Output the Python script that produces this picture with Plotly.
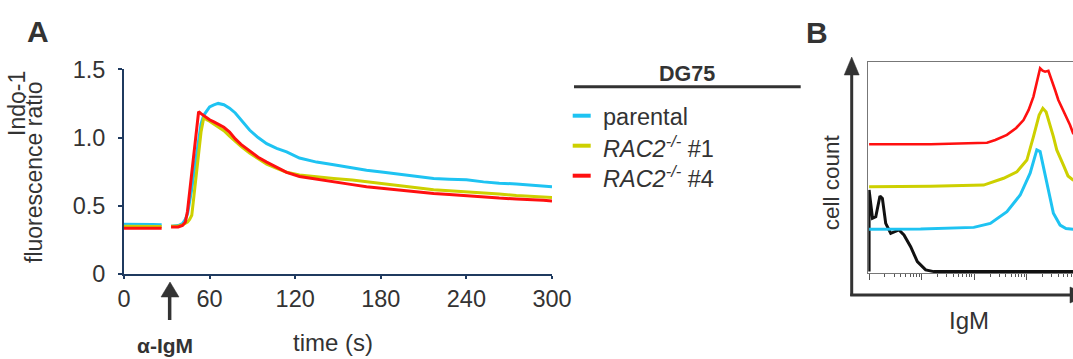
import plotly.graph_objects as go

# ---------------- Panel A data: Indo-1 fluorescence ratio vs time (s) ----------------
time_s = [0, 10, 20, 26.4, 30, 33, 38, 41, 43, 44.5, 46, 47.5, 49, 50.5, 52.3, 54, 56, 58, 60,
          63, 66, 70, 74, 78, 82, 88, 94, 100, 107, 114, 123, 135, 147, 160, 170, 182, 193,
          205, 217, 228, 240, 252, 263, 275, 287, 294, 300]

parental = [0.365, 0.366, 0.362, 0.36, None, 0.35, 0.355, 0.37, 0.40, 0.44, 0.52, 0.62, 0.74,
            0.86, 1.00, 1.10, 1.165, 1.20, 1.225, 1.24, 1.25, 1.24, 1.215, 1.18, 1.13, 1.055,
            1.00, 0.955, 0.92, 0.895, 0.85, 0.82, 0.80, 0.775, 0.76, 0.745, 0.73, 0.715, 0.70,
            0.695, 0.69, 0.675, 0.665, 0.66, 0.652, 0.645, 0.64]

rac2_1 = [0.35, 0.35, 0.348, 0.348, None, 0.35, 0.352, 0.36, 0.37, 0.38, 0.40, 0.43, 0.57,
          0.70, 0.86, 1.04, 1.15, 1.13, 1.12, 1.10, 1.08, 1.05, 1.01, 0.97, 0.935, 0.886,
          0.845, 0.805, 0.775, 0.745, 0.725, 0.71, 0.70, 0.688, 0.676, 0.66, 0.645, 0.63,
          0.617, 0.61, 0.603, 0.595, 0.586, 0.575, 0.566, 0.563, 0.56]

rac2_4 = [0.335, 0.336, 0.335, 0.335, None, 0.345, 0.345, 0.355, 0.38, 0.46, 0.60, 0.74, 0.88,
          1.06, 1.19, 1.175, 1.16, 1.14, 1.13, 1.115, 1.10, 1.075, 1.04, 0.99, 0.95, 0.90,
          0.855, 0.82, 0.785, 0.745, 0.715, 0.695, 0.672, 0.655, 0.64, 0.627, 0.615, 0.60,
          0.59, 0.583, 0.573, 0.565, 0.556, 0.55, 0.547, 0.54, 0.535]

stim_time = 32  # alpha-IgM addition (s)

x_ticks = [0, 60, 120, 180, 240, 300]
y_ticks = [0, 0.5, 1.0, 1.5]
y_ticktext = ["0", "0.5", "1.0", "1.5"]

series_names = ["parental", "<i>RAC2</i><sup><i>-/-</i></sup> #1", "<i>RAC2</i><sup><i>-/-</i></sup> #4"]
series_colors = ["#1EC3F2", "#CDD000", "#FF1010"]

# ---------------- Panel B data: IgM surface staining histograms ----------------
igm_black = [1, 1, 1.16, 1.34, 1.61, 1.79, 2.07, 2.58, 3.70, 4.60, 6.17, 8.26, 11.9, 17.0, 10000]
cnt_black = [0.8, 39.4, 26.0, 26.7, 36.5, 35.4, 23.6, 18.9, 20.5, 18.1, 12.6, 5.5, 1.6, 0.8, 0.8]

igm_cyan = [1, 9.55, 97.7, 201.8, 417.8, 746.4, 1153, 1545, 1786, 2393, 3192, 4276, 5546, 7534, 10000]
cnt_cyan = [20.8, 20.9, 21.7, 23.6, 29.1, 37.0, 47.3, 58.3, 57.5, 42.5, 28.4, 22.8, 21.2, 20.8, 20.8]

igm_yellow = [1, 14.8, 150.7, 360.6, 647.1, 1000, 1334, 1710, 2009, 2323, 3192, 3698, 4932, 6053, 7534, 10000]
cnt_yellow = [40.9, 41.1, 41.7, 44.9, 48.0, 53.5, 64.6, 74.8, 78.0, 76.2, 64.6, 58.3, 51.2, 46.0, 44.1, 43.0]

igm_red = [1, 14.8, 174.6, 251, 417.8, 626.6, 863, 1081, 1334, 1567, 1786, 1991, 2223, 2564, 2972,
           3436, 3963, 4667, 5728, 6607, 7534, 10000]
cnt_red = [61.0, 61.0, 61.7, 63.0, 65.4, 68.7, 72.4, 77.2, 83.5, 91.4, 96.9, 95.8, 95.3, 95.7, 91.4,
           86.6, 81.9, 78.1, 74.0, 70.1, 66.3, 63.0]

# ---------------- figure ----------------
W, H = 1073, 359


def px(x):
    return x / W


def py(y):
    return 1 - y / H


NAVY = "#1F3A5F"
TXT = "#333333"
FONT = "Liberation Sans, Arial, sans-serif"
FS = 23.5

fig = go.Figure()

for name, vals, col in zip(series_names, [parental, rac2_1, rac2_4], series_colors):
    fig.add_trace(go.Scatter(x=time_s, y=vals, mode="lines", name=name,
                             line=dict(color=col, width=3), connectgaps=False,
                             xaxis="x", yaxis="y"))

for xs, ys, col, wd in [(igm_black, cnt_black, "#111111", 3),
                        (igm_cyan, cnt_cyan, series_colors[0], 3),
                        (igm_yellow, cnt_yellow, series_colors[1], 3),
                        (igm_red, cnt_red, series_colors[2], 2.6)]:
    fig.add_trace(go.Scatter(x=xs, y=ys, mode="lines", line=dict(color=col, width=wd),
                             xaxis="x2", yaxis="y2", showlegend=False))

fig.update_layout(
    width=W, height=H, margin=dict(l=0, r=0, t=0, b=0, pad=0, autoexpand=False),
    paper_bgcolor="white", plot_bgcolor="white", showlegend=False,
    font=dict(family=FONT, size=FS, color=TXT),
    xaxis=dict(domain=[px(124), px(552)], range=[0, 300], tickvals=x_ticks,
               showline=True, linecolor=NAVY, linewidth=2, ticks="outside", ticklen=3,
               tickwidth=2, tickcolor=NAVY, showgrid=False, zeroline=False, automargin=False,
               tickfont=dict(size=FS, color=TXT), ticklabelstandoff=0, anchor="y"),
    yaxis=dict(domain=[py(274), py(69.3)], range=[0, 1.5], tickvals=y_ticks, ticktext=y_ticktext,
               showline=True, linecolor=NAVY, linewidth=2, ticks="outside", ticklen=4,
               tickwidth=2, tickcolor=NAVY, showgrid=False, zeroline=False, automargin=False,
               tickfont=dict(size=FS, color=TXT), ticklabelstandoff=8, anchor="x"),
    xaxis2=dict(domain=[px(868.3), 1.0], type="log", range=[-0.015, 3.877], dtick=1,
                showline=True, linecolor="#777777", linewidth=1.2, mirror=True,
                ticks="outside", ticklen=6, tickwidth=1, tickcolor="#555555",
                showticklabels=False, showgrid=False, zeroline=False, automargin=False,
                minor=dict(ticks="outside", ticklen=3, dtick="D1", tickcolor="#555555", showgrid=False),
                anchor="y2"),
    yaxis2=dict(domain=[py(273.3), py(61.7)], range=[0, 100], showline=True,
                linecolor="#777777", linewidth=1.2, ticks="", showticklabels=False,
                showgrid=False, zeroline=False, automargin=False, anchor="x2"),
)

ann = []
# panel letters
ann.append(dict(x=px(38), y=py(32), text="<b>A</b>", font=dict(size=30, color=TXT)))
ann.append(dict(x=px(817), y=py(33), text="<b>B</b>", font=dict(size=30, color=TXT)))
# axis titles panel A
ann.append(dict(x=px(333), y=py(342), text="time (s)", font=dict(size=24, color=TXT)))
ann.append(dict(x=px(17), y=py(104), text="Indo-1", textangle=-90, font=dict(size=23, color=TXT)))
ann.append(dict(x=px(34), y=py(172), text="fluorescence ratio", textangle=-90, font=dict(size=23, color=TXT)))
# stimulus label
ann.append(dict(x=px(165), y=py(345), text="<b>α-IgM</b>", font=dict(size=21, color=TXT)))
# legend
ann.append(dict(x=px(686.7), y=py(74), text="<b>DG75</b>", font=dict(size=21.5, color=TXT)))
for i, (name, col) in enumerate(zip(series_names, series_colors)):
    ann.append(dict(x=px(601), y=py(116.7 + 30 * i), text=name, xanchor="left",
                    font=dict(size=FS, color=TXT)))
# panel B axis titles
ann.append(dict(x=px(831.7), y=py(182.5), text="cell count", textangle=-90, font=dict(size=22.5, color=TXT)))
ann.append(dict(x=px(969), y=py(320), text="IgM", font=dict(size=24, color=TXT)))

for a in ann:
    a.setdefault("xref", "paper")
    a.setdefault("yref", "paper")
    a.setdefault("showarrow", False)
    a.setdefault("xanchor", "center")
    a.setdefault("yanchor", "middle")
fig.update_layout(annotations=ann)


def tri(p1, p2, p3):
    return "M {} {} L {} {} L {} {} Z".format(px(p1[0]), py(p1[1]), px(p2[0]), py(p2[1]),
                                              px(p3[0]), py(p3[1]))


def pline(x0, y0, x1, y1, col, w):
    return dict(type="line", xref="paper", yref="paper", x0=px(x0), x1=px(x1),
                y0=py(y0), y1=py(y1), line=dict(color=col, width=w))


def ppath(path, col):
    return dict(type="path", xref="paper", yref="paper", path=path,
                fillcolor=col, line=dict(color=col, width=0.5))


shapes = [pline(574, 86.7, 800.7, 86.7, TXT, 3)]
for i, col in enumerate(series_colors):
    shapes.append(pline(572.7, 115.7 + 30 * i, 590.7, 115.7 + 30 * i, col, 4))

# alpha-IgM arrow below the time axis (x in data units)
shapes.append(dict(type="line", xref="x", yref="paper", x0=stim_time, x1=stim_time,
                   y0=py(320), y1=py(294), line=dict(color=TXT, width=3.5)))
shapes.append(dict(type="path", xref="paper", yref="paper",
                   path=tri((170, 282), (161, 297), (179, 297)), fillcolor=TXT,
                   line=dict(color=TXT, width=0.5)))
# panel B big axis arrows
shapes.append(pline(851.7, 296, 851.7, 72, TXT, 3))
shapes.append(ppath(tri((851.7, 57), (844.2, 75), (859.2, 75)), TXT))
shapes.append(pline(850.2, 295, 1072, 295, TXT, 3))
shapes.append(ppath(tri((1089, 295), (1070, 287), (1070, 303)), TXT))
fig.update_layout(shapes=shapes)

fig.write_html("out.html", config={"displayModeBar": False},
               post_script="document.body.style.margin='0';document.body.style.overflow='hidden';")
